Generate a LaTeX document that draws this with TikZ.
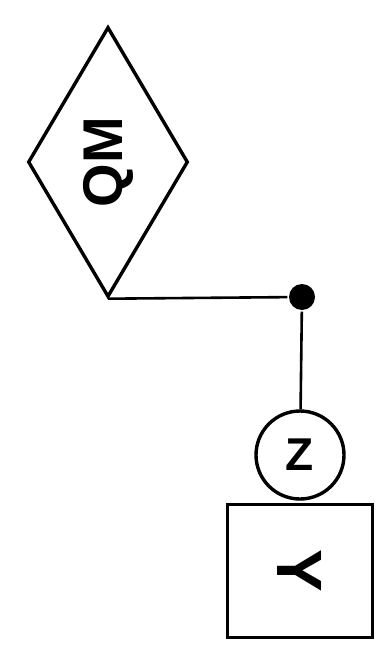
\documentclass[tikz,border=0pt]{standalone}
\usepackage{fontspec}
\setmainfont{Liberation Sans}
\usetikzlibrary{shapes.geometric,positioning}

\begin{document}
\begin{tikzpicture}[x=1pt, y=-1pt, line width=3.4pt,
    rel/.style={draw, diamond, minimum width=160pt, minimum height=270pt, inner sep=0pt, font=\fontsize{56}{56}\selectfont\bfseries},
    attr/.style={draw, circle, minimum size=88pt, inner sep=0pt, font=\fontsize{46}{46}\selectfont\bfseries},
    ent/.style={draw, rectangle, minimum width=145pt, minimum height=133pt, inner sep=0pt, font=\fontsize{64}{64}\selectfont\bfseries},
    joint/.style={circle, fill, minimum size=26pt, inner sep=0pt},
    link/.style={line width=2.6pt}]
    \useasboundingbox (0,0) rectangle (390,660);
    % Relationship
    \node[rel] (qm) at (108,162) {\rotatebox{90}{QM}};
    % Junction
    \node[joint] (dot) at (302,297) {};
    % Attribute and entity
    \node[attr] (z) at (300,455) {Z};
    \node[ent, below=2pt of z] (y) {\rotatebox{-90}{Y}};
    % Connectors
    \draw[link] (qm.south) -- (dot);
    \draw[link] (dot) -- (z);
\end{tikzpicture}
\end{document}
